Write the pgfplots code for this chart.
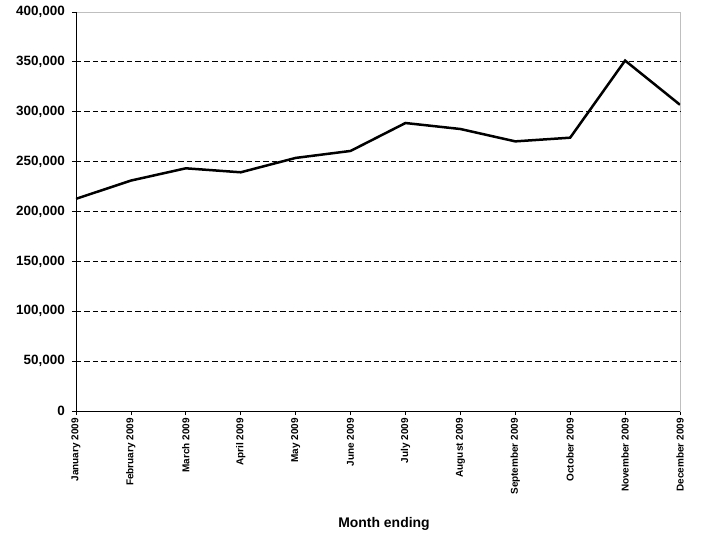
\documentclass[border=0pt]{standalone}
\usepackage{pgfplots}
\pgfplotsset{compat=1.18}
\usepackage{fontspec}
\setmainfont{Liberation Sans}

\begin{document}
\begin{tikzpicture}
	\begin{axis}[
		scale only axis,
		width=604bp, height=399bp,
		xmin=0, xmax=11,
		ymin=0, ymax=400000,
		xtick=data,
		xticklabels={January 2009, February 2009, March 2009, April 2009, May 2009, June 2009,
			July 2009, August 2009, September 2009, October 2009, November 2009, December 2009},
		ytick={0,50000,100000,150000,200000,250000,300000,350000,400000},
		yticklabels={0,{50,000},{100,000},{150,000},{200,000},{250,000},{300,000},{350,000},{400,000}},
		scaled y ticks=false,
		xtick pos=bottom, ytick pos=left,
		tick align=outside,
		major tick length=4bp,
		tick style={black, line width=0.8bp},
		axis line style={color=black!25, line width=0.8bp},
		extra y ticks={50000,100000,150000,200000,250000,300000,350000},
		extra y tick labels={},
		extra y tick style={ymajorgrids=true, major tick length=0pt},
		grid style={black, line width=0.8bp, dash pattern=on 5.5bp off 3bp},
		yticklabel style={font=\fontsize{13.5}{14}\selectfont\bfseries, inner sep=0pt},
		yticklabel shift=7bp,
		xticklabel style={font=\fontsize{10}{11}\selectfont\bfseries, rotate=90, anchor=east, inner sep=0pt},
		xticklabel shift=3bp,
		xlabel={Month ending},
		xlabel style={font=\fontsize{14}{15}\selectfont\bfseries, at={(axis description cs:0.5,0)}, anchor=center, yshift=-113bp, xshift=6bp},
	]
		\addplot[black, line width=2.5bp, mark=none] coordinates {
			(0, 212700)
			(1, 231000)
			(2, 243300)
			(3, 239300)
			(4, 253700)
			(5, 260700)
			(6, 288700)
			(7, 282700)
			(8, 270300)
			(9, 274000)
			(10, 351300)
			(11, 307000)
		};
		\draw[black, line width=0.8bp] (rel axis cs:0,1) -- (rel axis cs:0,0) -- (rel axis cs:1,0);
	\end{axis}
	\pgfresetboundingbox
	\path ([shift={(-76bp,-144bp)}]current axis.south west) rectangle ([shift={(22bp,12bp)}]current axis.north east);
\end{tikzpicture}
\end{document}
